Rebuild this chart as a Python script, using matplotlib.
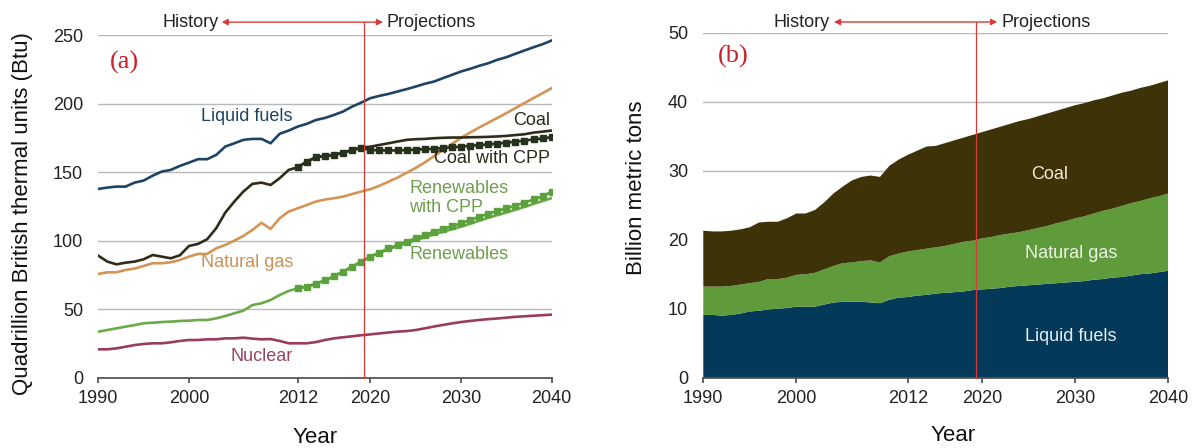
import matplotlib
matplotlib.use("Agg")
import matplotlib.pyplot as plt
import numpy as np

plt.rcParams['font.family'] = ['Liberation Sans', 'DejaVu Sans']

years = np.arange(1990, 2041)
cpp_years = np.arange(2012, 2041)
xticks = [1990, 2000, 2012, 2020, 2030, 2040]
split_year = 2019.35

# (a) 에너지원별 소비량, quadrillion Btu
liquid_fuels = [137.7, 138.7, 139.4, 139.4, 142.3, 143.8, 147.4, 150.4, 151.6, 154.5,
                156.9, 159.4, 159.4, 162.5, 168.6, 171.0, 173.5, 174.2, 174.2, 171.0,
                177.9, 180.3, 183.2, 185.2, 188.0, 189.5, 191.7, 194.2, 197.8, 200.7,
                203.9, 205.6, 207.0, 208.8, 210.5, 212.4, 214.4, 216.0, 218.5, 220.9,
                223.4, 225.3, 227.5, 229.4, 231.9, 233.8, 236.3, 238.7, 241.1, 243.3,
                246.0]
natural_gas = [75.7, 76.9, 76.9, 78.6, 79.6, 81.5, 83.5, 83.5, 84.2, 85.9,
               88.3, 90.3, 90.3, 94.4, 96.8, 100.0, 103.4, 107.8, 113.0, 108.5,
               116.3, 121.2, 123.6, 126.0, 128.5, 130.0, 130.9, 132.1, 134.0, 135.8,
               137.5, 140.0, 143.0, 146.0, 149.5, 153.0, 157.0, 161.5, 166.0, 170.5,
               175.0, 178.8, 182.5, 186.0, 189.5, 193.0, 196.7, 200.4, 204.0, 207.6,
               211.2]
coal = [89.0, 84.7, 82.7, 83.9, 84.7, 86.4, 89.5, 88.3, 87.1, 89.3,
        96.1, 97.6, 101.0, 109.0, 120.4, 128.5, 135.8, 141.4, 142.3, 140.6,
        145.5, 151.6, 153.5, 157.7, 160.8, 161.8, 162.5, 164.2, 166.2, 168.1,
        168.5, 169.8, 171.0, 172.3, 173.5, 174.0, 174.2, 174.7, 175.0, 175.2,
        175.2, 175.4, 175.5, 175.7, 176.0, 176.4, 177.0, 177.6, 178.8, 179.5,
        180.3]
coal_cpp = [153.5, 157.7, 160.8, 161.8, 162.5, 164.2, 166.0, 167.5,
            166.2, 165.8, 165.8, 165.8, 166.0, 166.4, 166.7, 167.0, 167.5, 168.0,
            168.6, 169.2, 169.7, 170.2, 170.8, 171.4, 172.2, 173.0, 173.8, 174.6,
            175.5]
renewables = [33.6, 34.8, 36.0, 37.2, 38.4, 39.7, 40.1, 40.6, 40.9, 41.4,
              41.6, 42.1, 42.1, 43.3, 45.0, 47.0, 48.9, 53.0, 54.3, 56.7,
              60.3, 63.3, 65.2, 66.5, 68.5, 71.0, 74.0, 77.4, 81.0, 84.7,
              88.3, 91.0, 93.8, 96.0, 98.2, 100.3, 102.4, 104.5, 106.4, 108.3,
              110.2, 112.3, 114.5, 116.6, 118.6, 120.5, 122.5, 124.6, 126.8, 128.9,
              131.0]
renewables_cpp = [65.2, 66.5, 68.5, 71.0, 74.0, 77.4, 81.0, 84.7,
                  88.3, 91.2, 94.4, 96.8, 99.3, 101.7, 104.1, 106.6, 108.5, 110.6,
                  112.6, 115.0, 117.4, 119.6, 121.6, 123.6, 125.6, 127.8, 130.0, 132.3,
                  135.8]
nuclear = [20.7, 20.7, 21.4, 22.6, 23.8, 24.6, 25.1, 25.1, 25.8, 26.8,
           27.5, 27.5, 28.0, 28.0, 28.7, 28.7, 29.2, 28.5, 28.0, 28.2,
           26.8, 25.1, 25.1, 25.1, 26.0, 27.5, 28.7, 29.5, 30.2, 31.0,
           31.6, 32.3, 33.0, 33.6, 34.0, 34.8, 36.0, 37.3, 38.5, 39.6,
           40.6, 41.4, 42.1, 42.7, 43.2, 43.8, 44.4, 44.8, 45.2, 45.6,
           46.0]

# (b) CO2 배출량, billion metric tons (누적 아님, 성분별)
co2_liquid = [9.1, 9.1, 9.0, 9.1, 9.3, 9.6, 9.7, 9.9, 10.0, 10.1,
              10.3, 10.3, 10.3, 10.6, 10.9, 11.0, 11.0, 11.0, 10.9, 10.8,
              11.3, 11.6, 11.7, 11.9, 12.0, 12.2, 12.3, 12.4, 12.5, 12.7,
              12.8, 12.9, 13.0, 13.2, 13.3, 13.4, 13.5, 13.6, 13.7, 13.8,
              13.9, 14.0, 14.2, 14.3, 14.5, 14.6, 14.8, 15.0, 15.1, 15.3,
              15.5]
co2_gas = [4.1, 4.1, 4.2, 4.2, 4.2, 4.1, 4.2, 4.4, 4.3, 4.4,
           4.6, 4.7, 4.9, 5.1, 5.3, 5.6, 5.7, 5.9, 6.1, 5.9,
           6.3, 6.4, 6.6, 6.6, 6.7, 6.7, 6.8, 7.0, 7.2, 7.2,
           7.4, 7.5, 7.7, 7.7, 7.8, 8.0, 8.2, 8.4, 8.7, 8.9,
           9.2, 9.4, 9.6, 9.9, 10.0, 10.3, 10.5, 10.6, 10.9, 11.0,
           11.2]
co2_coal = [8.1, 8.0, 8.0, 8.0, 8.0, 8.1, 8.6, 8.3, 8.3, 8.6,
            8.9, 8.8, 9.1, 9.7, 10.5, 11.1, 11.9, 12.2, 12.3, 12.4,
            13.1, 13.6, 14.0, 14.4, 14.8, 14.7, 14.9, 15.0, 15.1, 15.3,
            15.4, 15.6, 15.7, 15.9, 16.1, 16.1, 16.2, 16.3, 16.3, 16.4,
            16.4, 16.4, 16.4, 16.3, 16.4, 16.4, 16.3, 16.4, 16.3, 16.4,
            16.4]

RED = "#d93a36"
W, H = 1195, 448


def px_axes(x0, x1, ytop, ybot):
    return [x0 / W, 1 - ybot / H, (x1 - x0) / W, (ybot - ytop) / H]


def style_axes(ax, ymax, ystep):
    ax.set_xlim(1990, 2040)
    ax.set_ylim(0, ymax)
    ax.set_xticks(xticks)
    ax.set_yticks(np.arange(0, ymax + 1, ystep))
    for s in ("left", "right", "top"):
        ax.spines[s].set_visible(False)
    ax.spines["bottom"].set_color("#4a4a4a")
    ax.spines["bottom"].set_linewidth(1.2)
    ax.tick_params(axis="x", direction="out", length=3.5, width=1.2, color="#4a4a4a",
                   labelsize=13, pad=5, labelcolor="#222222")
    ax.tick_params(axis="y", length=0, labelsize=13, pad=11, labelcolor="#222222")
    ax.yaxis.grid(True, color="#b8b8b8", lw=1)
    ax.set_axisbelow(True)


def history_marker(ax, ytext, x_hist, x_proj, a0, a1):
    ax.plot([split_year, split_year], [0, ytext], color=RED, lw=0.9, clip_on=False, zorder=5)
    ax.annotate("", xy=(a0, ytext), xytext=(a1, ytext),
                arrowprops=dict(arrowstyle="<|-|>", color=RED, lw=1, mutation_scale=9,
                                shrinkA=0, shrinkB=0), annotation_clip=False)
    ax.text(x_hist, ytext, "History", ha="right", va="center", fontsize=13, color="#222222")
    ax.text(x_proj, ytext, "Projections", ha="left", va="center", fontsize=13, color="#222222")


fig = plt.figure(figsize=(W / 100, H / 100), dpi=100)

# ---- (a)
ax1 = fig.add_axes(px_axes(98.3, 551.7, 35, 377.7))
style_axes(ax1, 250, 50)
lw = 1.9
ax1.plot(years, liquid_fuels, color="#1d4464", lw=lw)
ax1.plot(years, natural_gas, color="#d39455", lw=lw)
ax1.plot(years, renewables, color="#6aaa48", lw=lw)
ax1.plot(years, nuclear, color="#9a3d58", lw=lw)
ax1.plot(years, coal, color="#2f2c18", lw=lw)
ax1.plot(cpp_years, coal_cpp, color="#27321c", lw=lw, marker="s", ms=5)
ax1.plot(cpp_years, renewables_cpp, color="#5ca23c", lw=lw, marker="s", ms=5)

ax1.text(2006.4, 190.4, "Liquid fuels", color="#1d4464", fontsize=13, ha="center", va="center")
ax1.text(2006.4, 84.2, "Natural gas", color="#c8915a", fontsize=13, ha="center", va="center")
ax1.text(2008.0, 15.8, "Nuclear", color="#9a4460", fontsize=13, ha="center", va="center")
ax1.text(2039.8, 187.5, "Coal", color="#2a2a1a", fontsize=13, ha="right", va="center")
ax1.text(2039.8, 160.0, "Coal with CPP", color="#2a2a1a", fontsize=13, ha="right", va="center")
ax1.text(2024.3, 131.1, "Renewables\nwith CPP", color="#6e9e4e", fontsize=13, ha="left",
         va="center", linespacing=1.1)
ax1.text(2024.3, 90.2, "Renewables", color="#6e9e4e", fontsize=13, ha="left", va="center")
ax1.text(1991.3, 230, "(a)", color="#cc1f2a", fontsize=19, family="Liberation Serif",
         ha="left", va="center")
history_marker(ax1, 259.4, 2003.3, 2021.8, 2003.6, 2021.4)

# ---- (b)
ax2 = fig.add_axes(px_axes(703.3, 1168.3, 32.7, 377.7))
style_axes(ax2, 50, 10)
ax2.stackplot(years, co2_liquid, co2_gas, co2_coal,
              colors=["#04395a", "#5f9a3b", "#3d3208"], lw=0)
ax2.text(2027.2, 29.4, "Coal", color="#f2ecd6", fontsize=13, ha="center", va="center")
ax2.text(2029.6, 18.0, "Natural gas", color="#eef3e6", fontsize=13, ha="center", va="center")
ax2.text(2029.5, 6.0, "Liquid fuels", color="#e4edf3", fontsize=13, ha="center", va="center")
ax2.text(1991.6, 46.5, "(b)", color="#cc1f2a", fontsize=19, family="Liberation Serif",
         ha="left", va="center")
history_marker(ax2, 51.55, 2003.6, 2022.1, 2004.05, 2021.6)

fig.text(23 / W, 1 - 214 / H, "Quadrillion British thermal units (Btu)", rotation=90,
         ha="center", va="center", fontsize=16, color="#111111")
fig.text(636 / W, 1 - 188 / H, "Billion metric tons", rotation=90,
         ha="center", va="center", fontsize=16, color="#111111")
fig.text(315 / W, 1 - 437 / H, "Year", ha="center", va="center", fontsize=16, color="#111111")
fig.text(953 / W, 1 - 435 / H, "Year", ha="center", va="center", fontsize=16, color="#111111")

fig.savefig("out.png", dpi=100)
